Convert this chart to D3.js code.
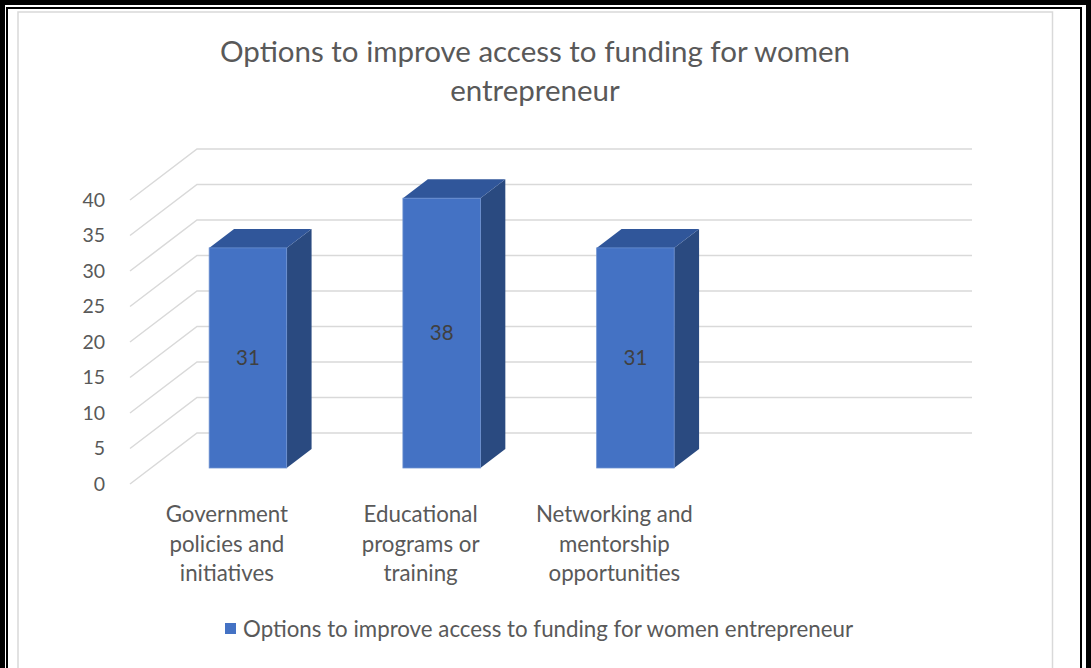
<!DOCTYPE html>
<html>
<head>
<meta charset="utf-8">
<script src="https://cdn.jsdelivr.net/npm/d3@7/dist/d3.min.js"></script>
<style>
  html, body { margin: 0; padding: 0; background: #fff; }
  svg { display: block; }
  text { font-family: Lato, "Open Sans", sans-serif; }
</style>
</head>
<body>
<svg id="chart" width="1091" height="668"></svg>
<script>
// Survey results: options to improve access to funding
const categories = ["Government policies and initiatives", "Educational programs or training", "Networking and mentorship opportunities", ""];
const categoryLines = [["Government", "policies and", "initiatives"], ["Educational", "programs or", "training"], ["Networking and", "mentorship", "opportunities"], []];
const values = [31, 38, 31, null];
const tickValues = [0, 5, 10, 15, 20, 25, 30, 35, 40];
const seriesName = "Options to improve access to funding for women entrepreneur";
const titleLines = ["Options to improve access to funding for women", "entrepreneur"];

const W = 1091, H = 668;
const svg = d3.select("#chart");

// page frame: thick black double rule and the light grey chart-area outline
svg.append("rect").attr("x", 2.5).attr("y", 2.5).attr("width", 1086).attr("height", 720)
  .attr("fill", "none").attr("stroke", "#000").attr("stroke-width", 5);
svg.append("rect").attr("x", 7).attr("y", 8).attr("width", 1074).attr("height", 720)
  .attr("fill", "none").attr("stroke", "#000").attr("stroke-width", 2);
svg.append("rect").attr("x", 18).attr("y", 12).attr("width", 1034.5).attr("height", 720)
  .attr("fill", "#fff").attr("stroke", "#d9d9d9").attr("stroke-width", 1.5);

// 3D projection: front plane origin, depth shift (dx, dy)
const ox = 130, oy = 484, depthX = 67, depthY = 51;
const plotW = 775;

const x = d3.scaleBand().domain(d3.range(categories.length)).range([0, plotW])
  .paddingInner(0.6).paddingOuter(0.3);
const y = d3.scaleLinear().domain([0, 40]).range([0, -284]);

function P(px, v, z) {
  return [ox + px + z * depthX, oy + y(v) - z * depthY];
}

// title
const title = svg.append("text").attr("text-anchor", "middle").attr("fill", "#595959")
  .attr("font-size", 29.5);
title.selectAll("tspan").data(titleLines).join("tspan")
  .attr("x", 535).attr("y", (d, i) => 62 + i * 39).text(d => d);

// gridlines: back wall horizontals and side wall diagonals
const grid = svg.append("g").attr("stroke", "#d9d9d9").attr("stroke-width", 1.5).attr("fill", "none");
tickValues.forEach(v => {
  const a = P(0, v, 0), b = P(0, v, 1), c = P(plotW, v, 1);
  grid.append("path").attr("d", d3.line()([a, b, c]));
});

// value axis along the front edge of the side wall
const yFront = d3.scaleLinear().domain([0, 40]).range([oy, oy + y(40)]);
const axis = svg.append("g").attr("transform", `translate(${ox},0)`)
  .call(d3.axisLeft(yFront).tickValues(tickValues).tickSize(0).tickPadding(25));
axis.select(".domain").remove();
axis.selectAll("text").attr("font-size", 19.5).attr("fill", "#595959")
  .attr("font-family", "Lato, 'Open Sans', sans-serif");

// bars as three visible faces
const zf = 0.314, zb = 0.686;
const bars = svg.append("g");
values.forEach((v, i) => {
  if (v == null) return;
  const x0 = x(i), x1 = x(i) + x.bandwidth();
  const g = bars.append("g");
  // side face
  g.append("polygon").attr("points", [P(x1, 0, zf), P(x1, v, zf), P(x1, v, zb), P(x1, 0, zb)].join(" "))
    .attr("fill", "#2a4a80");
  // top face
  g.append("polygon").attr("points", [P(x0, v, zf), P(x1, v, zf), P(x1, v, zb), P(x0, v, zb)].join(" "))
    .attr("fill", "#30569a");
  // front face
  const ft = P(x0, v, zf), fb = P(x1, 0, zf);
  g.append("rect").attr("x", ft[0]).attr("y", ft[1]).attr("width", fb[0] - ft[0]).attr("height", fb[1] - ft[1])
    .attr("fill", "#4472c4").attr("stroke", "#6a8fd0").attr("stroke-width", 0.8);
  // data label in the middle of the front face
  const mid = P((x0 + x1) / 2, v / 2, zf);
  g.append("text").attr("x", mid[0]).attr("y", mid[1]).attr("dy", "0.35em")
    .attr("text-anchor", "middle").attr("font-size", 20.5).attr("fill", "#404040").text(v);
});

// category labels under each slot on the front plane
const cat = svg.append("g").attr("text-anchor", "middle").attr("fill", "#595959").attr("font-size", 22.3);
categoryLines.forEach((lines, i) => {
  const cx = ox + x(i) + x.bandwidth() / 2;
  const t = cat.append("text");
  t.selectAll("tspan").data(lines).join("tspan")
    .attr("x", cx).attr("y", (d, j) => 522 + j * 29.5).text(d => d);
});

// legend
const legend = svg.append("g");
legend.append("rect").attr("x", 225).attr("y", 623).attr("width", 11).attr("height", 11).attr("fill", "#4472c4");
legend.append("text").attr("x", 243).attr("y", 629).attr("dy", "0.35em").attr("font-size", 22.3)
  .attr("fill", "#595959").text(seriesName);
</script>
</body>
</html>
